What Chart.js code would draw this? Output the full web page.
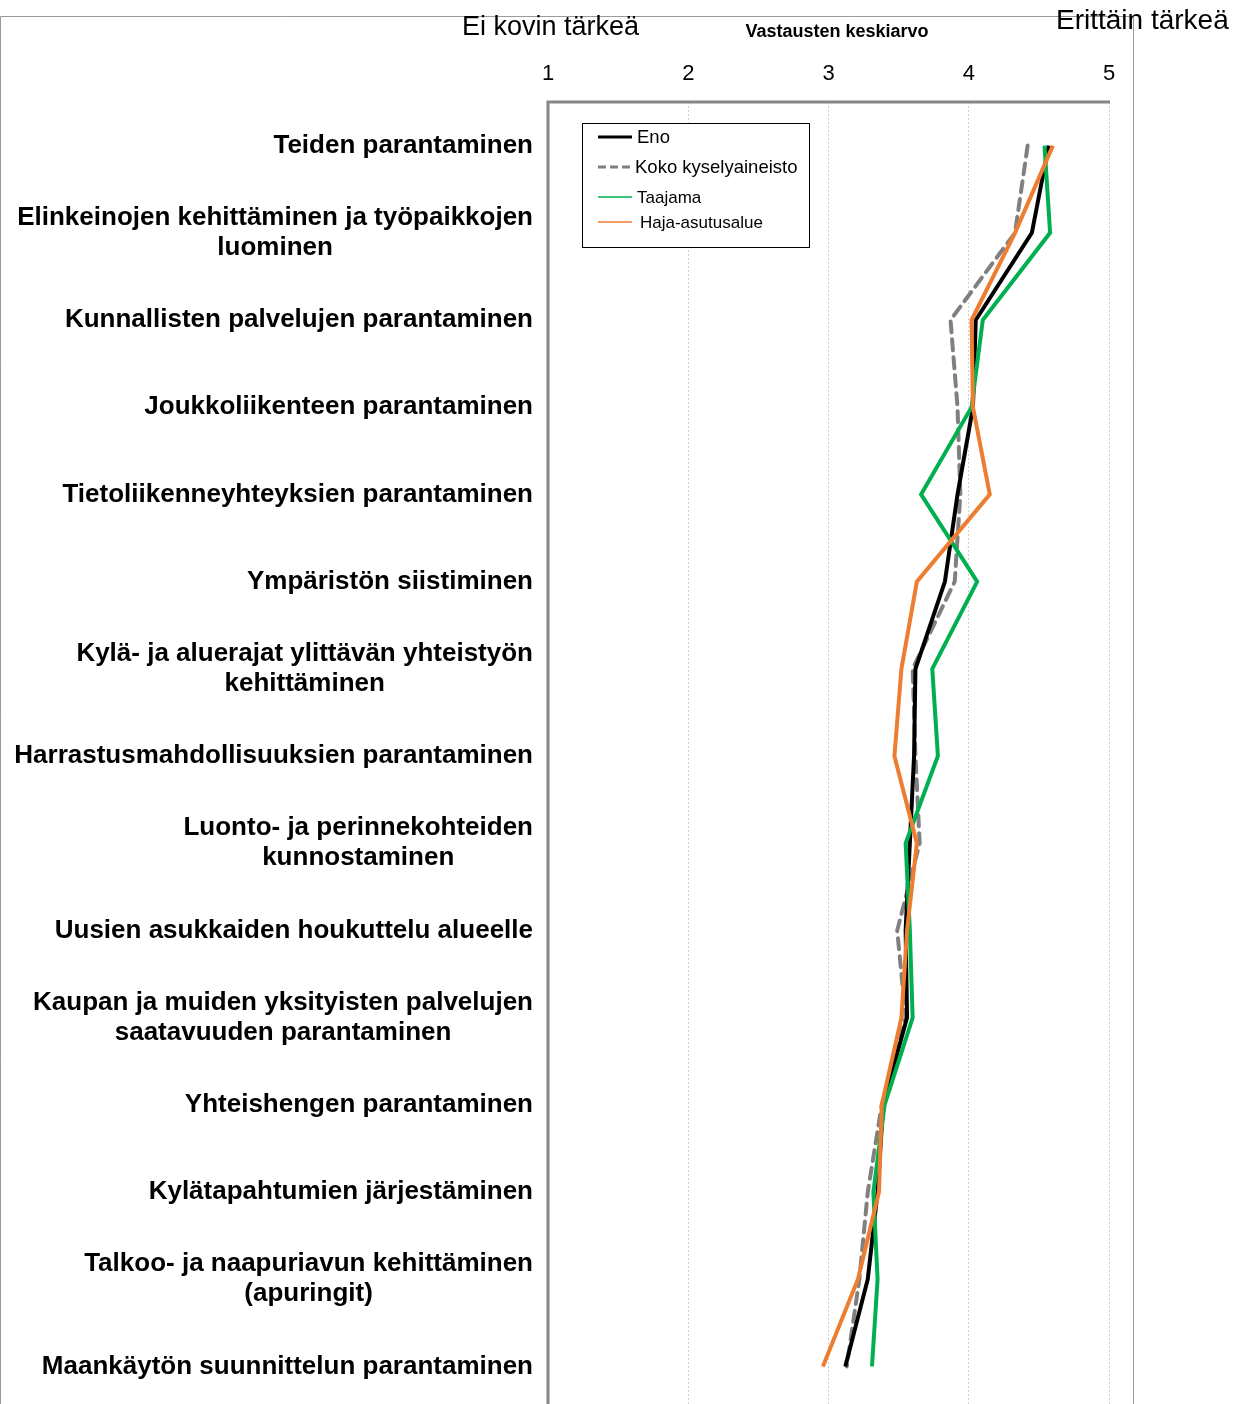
<!DOCTYPE html>
<html>
<head>
<meta charset="utf-8">
<script src="https://cdn.jsdelivr.net/npm/chart.js@4.4.1/dist/chart.umd.min.js"></script>
<style>
    html, body { margin: 0; padding: 0; background: #fff; overflow: hidden; }
    #wrap { width: 1234px; height: 1404px; overflow: hidden; }
    canvas { display: block; }
</style>
</head>
<body>
<div id="wrap"><canvas id="chart" width="1234" height="1412"></canvas></div>
<script>
// categories (multi-line labels as arrays)
const categories = [
    'Teiden parantaminen',
    ['Elinkeinojen kehittäminen ja työpaikkojen', 'luominen'],
    'Kunnallisten palvelujen parantaminen',
    'Joukkoliikenteen parantaminen',
    'Tietoliikenneyhteyksien parantaminen',
    'Ympäristön siistiminen',
    ['Kylä- ja aluerajat ylittävän yhteistyön', 'kehittäminen'],
    'Harrastusmahdollisuuksien parantaminen',
    ['Luonto- ja perinnekohteiden', 'kunnostaminen'],
    'Uusien asukkaiden houkuttelu alueelle',
    ['Kaupan ja muiden yksityisten palvelujen', 'saatavuuden parantaminen'],
    'Yhteishengen parantaminen',
    'Kylätapahtumien järjestäminen',
    ['Talkoo- ja naapuriavun kehittäminen', '(apuringit)'],
    'Maankäytön suunnittelun parantaminen'
];

const eno     = [4.57, 4.45, 4.05, 4.03, 3.92, 3.83, 3.62, 3.61, 3.58, 3.55, 3.56, 3.39, 3.35, 3.28, 3.12];
const koko    = [4.42, 4.33, 3.87, 3.92, 3.94, 3.90, 3.60, 3.62, 3.65, 3.49, 3.55, 3.38, 3.28, 3.22, 3.13];
const taajama = [4.54, 4.58, 4.10, 4.02, 3.66, 4.06, 3.74, 3.78, 3.55, 3.58, 3.60, 3.40, 3.32, 3.35, 3.31];
const haja    = [4.60, 4.33, 4.02, 4.03, 4.15, 3.63, 3.52, 3.47, 3.63, 3.56, 3.52, 3.38, 3.36, 3.21, 2.96];

const seriesNames = ['Eno', 'Koko kyselyaineisto', 'Taajama', 'Haja-asutusalue'];
const xTicks = [1, 2, 3, 4, 5];

const titleText = 'Vastausten keskiarvo';
const lowText = 'Ei kovin tärkeä';
const highText = 'Erittäin tärkeä';

const FONT = '"Liberation Sans", Arial, sans-serif';

// white background + outer frame
const framePlugin = {
    id: 'frame',
    beforeDraw(chart) {
        const ctx = chart.ctx;
        ctx.save();
        ctx.fillStyle = '#fff';
        ctx.fillRect(0, 0, chart.width, chart.height);
        ctx.strokeStyle = '#9a9a9a';
        ctx.lineWidth = 1;
        ctx.beginPath();
        ctx.moveTo(0.5, chart.height);
        ctx.lineTo(0.5, 16.5);
        ctx.lineTo(1133.5, 16.5);
        ctx.lineTo(1133.5, chart.height);
        ctx.stroke();
        ctx.restore();
    },
    afterDraw(chart) {
        const ctx = chart.ctx;
        const area = chart.chartArea;
        ctx.save();

        // plot border (top + left)
        ctx.strokeStyle = '#868686';
        ctx.lineWidth = 3;
        ctx.beginPath();
        ctx.moveTo(area.left, chart.height);
        ctx.lineTo(area.left, area.top);
        ctx.lineTo(area.right + 1, area.top);
        ctx.stroke();

        // category labels, second line centred under the first
        const yScale = chart.scales.y;
        ctx.fillStyle = '#000';
        ctx.font = 'bold 26px ' + FONT;
        ctx.textBaseline = 'middle';
        chart.data.labels.forEach(function (lab, i) {
            const y = yScale.getPixelForValue(i);
            const right = area.left - 15;
            if (Array.isArray(lab)) {
                const w = ctx.measureText(lab[0]).width;
                ctx.textAlign = 'right';
                ctx.fillText(lab[0], right, y - 15);
                ctx.textAlign = 'center';
                ctx.fillText(lab[1], right - w / 2, y + 15);
            } else {
                ctx.textAlign = 'right';
                ctx.fillText(lab, right, y);
            }
        });

        // headings
        ctx.textBaseline = 'alphabetic';
        ctx.textAlign = 'left';
        ctx.font = '27px ' + FONT;
        ctx.fillText(lowText, 462, 35);
        ctx.font = '28px ' + FONT;
        ctx.fillText(highText, 1056, 29);
        ctx.textAlign = 'center';
        ctx.font = 'bold 18px ' + FONT;
        ctx.fillText(titleText, 837, 37);

        // legend box
        const lx = area.left + 34, ly = area.top + 21;
        ctx.fillStyle = '#fff';
        ctx.fillRect(lx, ly, 227, 124);
        ctx.strokeStyle = '#000';
        ctx.lineWidth = 1;
        ctx.strokeRect(lx + 0.5, ly + 0.5, 227, 124);
        const rows = [
            {dy: 14, lw: 3, dash: [], tx: 55, size: 18.5},
            {dy: 44, lw: 3, dash: [8, 4], tx: 53, size: 18.5},
            {dy: 74, lw: 1.5, dash: [], tx: 55, size: 17},
            {dy: 99, lw: 1.5, dash: [], tx: 58, size: 17}
        ];
        chart.data.datasets.forEach(function (ds, i) {
            const r = rows[i];
            ctx.strokeStyle = ds.borderColor;
            ctx.lineWidth = r.lw;
            ctx.setLineDash(r.dash);
            ctx.beginPath();
            ctx.moveTo(lx + 16, ly + r.dy);
            ctx.lineTo(lx + 50, ly + r.dy);
            ctx.stroke();
            ctx.setLineDash([]);
            ctx.fillStyle = '#000';
            ctx.font = r.size + 'px ' + FONT;
            ctx.textAlign = 'left';
            ctx.textBaseline = 'middle';
            ctx.fillText(ds.label, lx + r.tx, ly + r.dy + 1);
        });
        ctx.restore();
    }
};

const ctx = document.getElementById('chart').getContext('2d');

new Chart(ctx, {
    type: 'line',
    data: {
        labels: categories,
        datasets: [
            {
                label: seriesNames[0],
                data: eno,
                borderColor: '#000000',
                borderWidth: 4,
                order: 3
            },
            {
                label: seriesNames[1],
                data: koko,
                borderColor: '#808080',
                borderWidth: 4,
                borderDash: [11, 7],
                borderCapStyle: 'round',
                order: 4
            },
            {
                label: seriesNames[2],
                data: taajama,
                borderColor: '#00b050',
                borderWidth: 4,
                order: 2
            },
            {
                label: seriesNames[3],
                data: haja,
                borderColor: '#ed7d31',
                borderWidth: 4,
                order: 1
            }
        ]
    },
    options: {
        indexAxis: 'y',
        responsive: false,
        animation: false,
        layout: {
            padding: {top: 0, left: 0, right: 125, bottom: 2}
        },
        elements: {
            point: {radius: 0, hoverRadius: 0},
            line: {tension: 0, fill: false}
        },
        scales: {
            x: {
                type: 'linear',
                position: 'top',
                min: xTicks[0],
                max: xTicks[xTicks.length - 1],
                afterBuildTicks: function (scale) {
                    scale.ticks = xTicks.map(function (v) { return {value: v}; });
                },
                afterFit: function (scale) {
                    scale.height = 102;
                },
                ticks: {
                    color: '#000',
                    padding: 15,
                    font: {family: '"Liberation Sans Narrow", "Liberation Sans", Arial, sans-serif', size: 22}
                },
                grid: {
                    color: '#cfcfcf',
                    lineWidth: 1,
                    drawTicks: false
                },
                border: {
                    display: false,
                    dash: [2, 2]
                }
            },
            y: {
                type: 'category',
                offset: true,
                afterFit: function (scale) {
                    scale.width = 548;
                },
                ticks: {display: false},
                grid: {display: false},
                border: {display: false}
            }
        },
        plugins: {
            legend: {display: false},
            tooltip: {enabled: false}
        }
    },
    plugins: [framePlugin]
});
</script>
</body>
</html>
